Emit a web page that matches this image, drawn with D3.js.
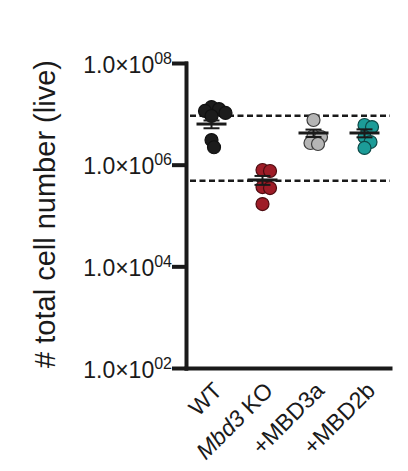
<!DOCTYPE html>
<html>
<head>
<meta charset="utf-8">
<script src="https://cdn.jsdelivr.net/npm/d3@7"></script>
<style>
  body { margin: 0; background: #fff; }
  svg { display: block; font-family: Arial, "Liberation Sans", sans-serif; }
</style>
</head>
<body>
<svg id="chart" width="408" height="471"></svg>
<script>
'use strict';

// values
const categories = ['WT', 'Mbd3 KO', '+MBD3a', '+MBD2b'];
const wtValues = [1.36e7, 1.24e7, 1.14e7, 1.04e7, 9.06e6, 3.05e6, 2.2e6];
const koValues = [7.85e5, 7.5e5, 3.63e5, 3.47e5, 1.68e5];
const mbd3aValues = [7.56e6, 3.66e6, 3.5e6, 2.67e6, 2.55e6];
const mbd2bValues = [6.03e6, 5.5e6, 3.5e6, 2.79e6, 2.13e6];
const meanValues = [6.3e6, 5.0e5, 4.2e6, 4.2e6];
const semValues = [1.1e6, 1.0e5, 0.7e6, 0.75e6];
const refLines = [9.2e6, 4.8e5];
const yTicks = [1e2, 1e4, 1e6, 1e8];

const groups = [wtValues, koValues, mbd3aValues, mbd2bValues];
const fills = ['#1c1c1c', '#9e1c27', '#b5b5b5', '#1c9c98'];
const strokes = ['#111111', '#4d0b10', '#3c3c3c', '#0c4846'];

const svg = d3.select('#chart');
const ink = '#1a1a1a';
const r = 6.5;

const x = d3.scaleBand().domain(categories).range([186, 390]);
const y = d3.scaleLog().domain([1e2, 1e8]).range([368, 63]);

// y axis
const yAxis = svg.append('g')
    .attr('transform', 'translate(186,0)')
    .call(d3.axisLeft(y).tickValues(yTicks).tickSize(12).tickSizeOuter(0).tickFormat(''));

yAxis.selectAll('path, line')
    .attr('stroke', ink)
    .attr('stroke-width', 4)
    .attr('stroke-linecap', 'square');

yAxis.selectAll('.tick').each(function(d) {
    const t = d3.select(this).append('text')
        .attr('x', -14)
        .attr('y', 9)
        .attr('text-anchor', 'end')
        .attr('fill', ink)
        .attr('font-size', 23);
    t.append('tspan').text('1.0×10');
    t.append('tspan')
        .attr('font-size', 16)
        .attr('dy', -9)
        .text(d3.format('02d')(Math.round(Math.log10(d))));
});

// x axis
const xAxis = svg.append('g')
    .attr('transform', 'translate(0,368)')
    .call(d3.axisBottom(x).tickSize(0).tickFormat(''));

xAxis.select('path')
    .attr('stroke', ink)
    .attr('stroke-width', 4)
    .attr('stroke-linecap', 'square');

xAxis.selectAll('.tick').each(function(d) {
    const t = d3.select(this).append('text')
        .attr('text-anchor', 'end')
        .attr('fill', ink)
        .attr('font-size', 23)
        .attr('transform', 'translate(12,24) rotate(-45)');
    if (d === 'Mbd3 KO') {
        t.append('tspan').attr('font-style', 'italic').text('Mbd3');
        t.append('tspan').text(' KO');
    } else {
        t.text(d);
    }
});

// y label
svg.append('text')
    .attr('transform', 'translate(55,214) rotate(-90)')
    .attr('text-anchor', 'middle')
    .attr('fill', ink)
    .attr('font-size', 29)
    .text('# total cell number (live)');

// dashed reference lines
svg.append('g').selectAll('line')
    .data(refLines)
    .join('line')
    .attr('x1', 190)
    .attr('x2', 390)
    .attr('y1', d => y(d))
    .attr('y2', d => y(d))
    .attr('stroke', ink)
    .attr('stroke-width', 2.5)
    .attr('stroke-dasharray', '6,3.5');

// simple beeswarm so points spread sideways instead of piling up
const swarm = (values, minDist) => {
    const placed = [];
    const pts = values.map(v => ({ v, py: y(v) })).sort((a, b) => a.py - b.py);
    pts.forEach(p => {
        for (let k = 0; k < 200; k++) {
            const off = (k % 2 ? 1 : -1) * Math.ceil(k / 2) * 0.5;
            const ok = placed.every(q => Math.hypot(q.dx - off, q.py - p.py) >= minDist);
            if (ok) { p.dx = off; break; }
        }
        placed.push(p);
    });
    return pts;
};

groups.forEach((vals, i) => {
    const cx = x(categories[i]) + x.bandwidth() / 2;
    svg.append('g').selectAll('circle')
        .data(swarm(vals, 7.5))
        .join('circle')
        .attr('cx', d => cx + d.dx)
        .attr('cy', d => d.py)
        .attr('r', r)
        .attr('fill', fills[i])
        .attr('stroke', strokes[i])
        .attr('stroke-width', 1.2);
});

// mean and SEM
const stats = svg.append('g')
    .attr('stroke', ink)
    .attr('stroke-linecap', 'butt');

categories.forEach((c, i) => {
    const cx = x(c) + x.bandwidth() / 2;
    const m = meanValues[i], s = semValues[i];
    stats.append('line')
        .attr('x1', cx - 15).attr('x2', cx + 15)
        .attr('y1', y(m)).attr('y2', y(m))
        .attr('stroke-width', 3);
    stats.append('line')
        .attr('x1', cx).attr('x2', cx)
        .attr('y1', y(m + s)).attr('y2', y(m - s))
        .attr('stroke-width', 2);
    [m + s, m - s].forEach(v => {
        stats.append('line')
            .attr('x1', cx - 8).attr('x2', cx + 8)
            .attr('y1', y(v)).attr('y2', y(v))
            .attr('stroke-width', 2);
    });
});
</script>
</body>
</html>
